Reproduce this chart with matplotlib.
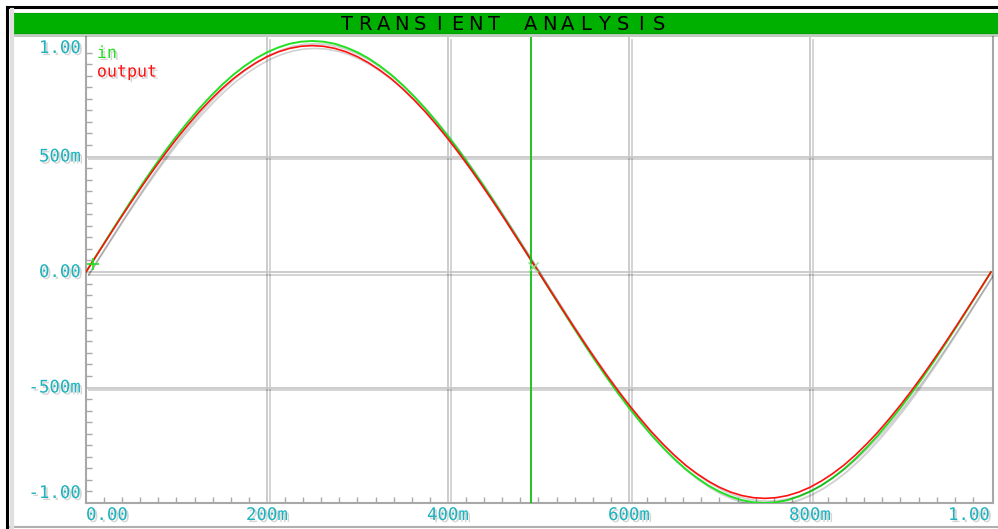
import numpy as np
import matplotlib
matplotlib.use("Agg")
import matplotlib.pyplot as plt
import matplotlib.patheffects as pe
from matplotlib.ticker import FixedLocator, MultipleLocator

# ── data ─────────────────────────────────────────────────────────────────────
time_s = [0.0000, 0.0125, 0.0250, 0.0375, 0.0500, 0.0625, 0.0750, 0.0875, 0.1000, 0.1125,
          0.1250, 0.1375, 0.1500, 0.1625, 0.1750, 0.1875, 0.2000, 0.2125, 0.2250, 0.2375,
          0.2500, 0.2625, 0.2750, 0.2875, 0.3000, 0.3125, 0.3250, 0.3375, 0.3500, 0.3625,
          0.3750, 0.3875, 0.4000, 0.4125, 0.4250, 0.4375, 0.4500, 0.4625, 0.4750, 0.4875,
          0.5000, 0.5125, 0.5250, 0.5375, 0.5500, 0.5625, 0.5750, 0.5875, 0.6000, 0.6125,
          0.6250, 0.6375, 0.6500, 0.6625, 0.6750, 0.6875, 0.7000, 0.7125, 0.7250, 0.7375,
          0.7500, 0.7625, 0.7750, 0.7875, 0.8000, 0.8125, 0.8250, 0.8375, 0.8500, 0.8625,
          0.8750, 0.8875, 0.9000, 0.9125, 0.9250, 0.9375, 0.9500, 0.9625, 0.9750, 0.9875,
          1.0000]

v_in = [0.000, 0.078, 0.156, 0.233, 0.309, 0.383, 0.454, 0.523, 0.588, 0.649,
        0.707, 0.760, 0.809, 0.853, 0.891, 0.924, 0.951, 0.972, 0.988, 0.997,
        1.000, 0.997, 0.988, 0.972, 0.951, 0.924, 0.891, 0.853, 0.809, 0.760,
        0.707, 0.649, 0.588, 0.523, 0.454, 0.383, 0.309, 0.233, 0.156, 0.078,
        0.000, -0.078, -0.156, -0.233, -0.309, -0.383, -0.454, -0.523, -0.588, -0.649,
        -0.707, -0.760, -0.809, -0.853, -0.891, -0.924, -0.951, -0.972, -0.988, -0.997,
        -1.000, -0.997, -0.988, -0.972, -0.951, -0.924, -0.891, -0.853, -0.809, -0.760,
        -0.707, -0.649, -0.588, -0.523, -0.454, -0.383, -0.309, -0.233, -0.156, -0.078,
        0.000]

v_out = [0.000, 0.077, 0.153, 0.229, 0.303, 0.375, 0.445, 0.512, 0.576, 0.636,
         0.693, 0.745, 0.793, 0.836, 0.873, 0.905, 0.932, 0.953, 0.968, 0.977,
         0.980, 0.977, 0.968, 0.953, 0.932, 0.905, 0.873, 0.836, 0.793, 0.745,
         0.693, 0.636, 0.576, 0.512, 0.445, 0.375, 0.303, 0.229, 0.153, 0.077,
         0.000, -0.077, -0.153, -0.229, -0.303, -0.375, -0.445, -0.512, -0.576, -0.636,
         -0.693, -0.745, -0.793, -0.836, -0.873, -0.905, -0.932, -0.953, -0.968, -0.977,
         -0.980, -0.977, -0.968, -0.953, -0.932, -0.905, -0.873, -0.836, -0.793, -0.745,
         -0.693, -0.636, -0.576, -0.512, -0.445, -0.375, -0.303, -0.229, -0.153, -0.077,
         0.000]

x_ticks = [0.0, 0.2, 0.4, 0.6, 0.8, 1.0]
x_labels = ["0.00", "200m", "400m", "600m", "800m", "1.00"]
y_ticks = [1.0, 0.5, 0.0, -0.5, -1.0]
y_labels = ["1.00", "500m", "0.00", "-500m", "-1.00"]

cursor_t = 0.4917
title = "TRANSIENT ANALYSIS"

# ── styling ──────────────────────────────────────────────────────────────────
W, H = 998, 529
teal = "#1db3bd"
green = "#22e022"
red = "#ff1010"
grid_c = "#c8c8c8"
bar_green = "#00b000"
mono = "DejaVu Sans Mono"

fig = plt.figure(figsize=(W / 100, H / 100), dpi=100)
fig.patch.set_facecolor("white")

def fx(px):
    return px / W

def fy(py):
    return 1 - py / H

# outer frame: black border top/left, gray bottom/right
fig.add_artist(plt.Line2D([fx(7), fx(998)], [fy(7), fy(7)], color="black", lw=2.2))
fig.add_artist(plt.Line2D([fx(7), fx(7)], [fy(7), fy(529)], color="black", lw=2.2))
fig.add_artist(plt.Line2D([fx(10), fx(998)], [fy(527), fy(527)], color="#b0b0b0", lw=1.5))
fig.add_artist(plt.Line2D([fx(12), fx(12)], [fy(10), fy(527)], color="#e0e0e0", lw=3))

# green title bar
fig.add_artist(plt.Rectangle((fx(10), fy(33)), fx(988), (33 - 13) / H,
                             facecolor=bar_green, edgecolor="#00a000", lw=0.8,
                             path_effects=[pe.SimplePatchShadow(offset=(0, -3), alpha=0.25),
                                           pe.Normal()]))

# title letters on a fixed wide pitch
pitch = 18.4
for i, ch in enumerate(title):
    fig.text(fx(503 + (i - 8.5) * pitch), fy(24), ch, ha="center", va="center",
             fontsize=14, family="DejaVu Sans", color="black")

# ── plot area ────────────────────────────────────────────────────────────────
left, right, top, bottom = 86, 993, 37, 503
ax = fig.add_axes([fx(left), 1 - bottom / H, (right - left) / W, (bottom - top) / H])
ax.set_facecolor("white")
x_per_px = 1.0 / (991 - 86)
ax.set_xlim(0, (right - left) * x_per_px)
y_per_px = 1.0 / 231
ax.set_ylim(-1.0 - (bottom - 503) * y_per_px, (272 - top) * y_per_px)

shadow = [pe.SimpleLineShadow(offset=(2, -2), alpha=0.18, shadow_color="black"), pe.Normal()]

for t in x_ticks[1:-1]:
    ax.axvline(t, color=grid_c, lw=1.3, zorder=1, path_effects=shadow)
for v in y_ticks[1:-1]:
    ax.axhline(v, color=grid_c, lw=1.3, zorder=1, path_effects=shadow)

ax.spines["top"].set_visible(False)
for s in ["left", "bottom", "right"]:
    ax.spines[s].set_color("#a8a8a8")
    ax.spines[s].set_linewidth(1.5)

ax.plot(time_s, v_in, color=green, lw=1.4, zorder=3, path_effects=shadow)
ax.plot(time_s, v_out, color=red, lw=1.2, zorder=4, path_effects=shadow)

# cursor
ax.axvline(cursor_t, color="#10c010", lw=1.3, zorder=5)
ax.plot([cursor_t + 0.002], [0.02], marker="x", ms=7, color="#90e090", mew=1, zorder=6)
ax.plot([0.008], [0.035], marker="+", ms=9, color=green, mew=1.2, zorder=6)

# ticks inside
ax.xaxis.set_major_locator(FixedLocator(x_ticks))
ax.yaxis.set_major_locator(FixedLocator(y_ticks))
ax.xaxis.set_minor_locator(MultipleLocator(0.02))
ax.yaxis.set_minor_locator(MultipleLocator(0.05))
ax.tick_params(which="both", direction="in", color="#a8a8a8", width=1)
ax.tick_params(which="major", length=0)
ax.tick_params(which="minor", length=4)
ax.set_xticklabels([])
ax.set_yticklabels([])

txt_shadow = [pe.withSimplePatchShadow(offset=(1.5, -1.5), shadow_rgbFace="#888888", alpha=0.35)]

# y labels (end labels clamped inside the plot)
for v, lab in zip(y_ticks, y_labels):
    py = 272 - v * 231
    py = min(max(py, 48), 493)
    fig.text(fx(81), fy(py), lab, ha="right", va="center", fontsize=12.5,
             family=mono, color=teal, path_effects=txt_shadow)

# x labels
for t, lab in zip(x_ticks, x_labels):
    px = 86 + t * 905
    ha = "center"
    if t == x_ticks[0]:
        ha = "left"
    elif t == x_ticks[-1]:
        ha = "right"
        px = 990
    fig.text(fx(px), fy(515), lab, ha=ha, va="center", fontsize=12.5,
             family=mono, color=teal, path_effects=txt_shadow)

# trace names
ax.text(0.012, 0.985, "in", transform=ax.transAxes, ha="left", va="top",
        fontsize=12, family=mono, color=green, path_effects=txt_shadow)
ax.text(0.012, 0.945, "output", transform=ax.transAxes, ha="left", va="top",
        fontsize=12, family=mono, color=red, path_effects=txt_shadow)

fig.savefig("out.png", dpi=100, facecolor=fig.get_facecolor())
